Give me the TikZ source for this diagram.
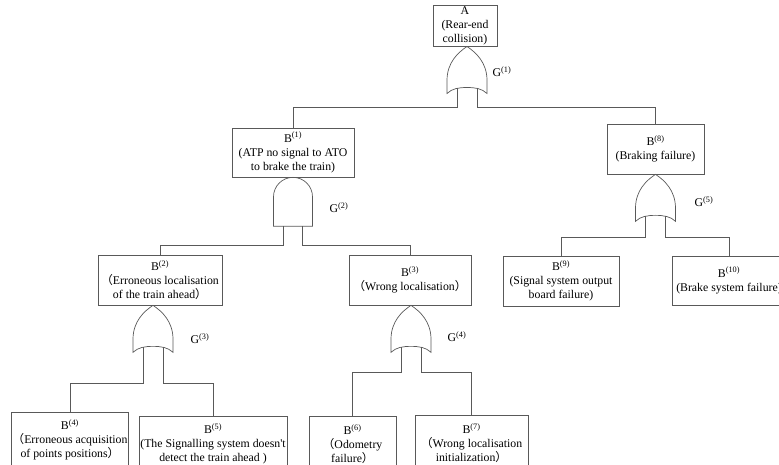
\documentclass[tikz,border=0pt]{standalone}
\usepackage{fontspec}
\setmainfont{Liberation Serif}
\newfontfamily\cjk{Noto Sans CJK SC}
\newcommand{\fwl}{{\cjk （}}
\newcommand{\fwr}{{\cjk ）}}
\tikzset{
  box/.style={draw=black!65, line width=0.7pt, align=center, inner sep=1pt,
    font=\fontsize{11.8}{14}\selectfont},
  gate/.style={draw=black!65, line width=0.7pt},
  wire/.style={draw=black!65, line width=0.7pt},
  glabel/.style={font=\fontsize{11.8}{14}\selectfont},
  orgate/.pic={
    \draw[gate] (0,0) .. controls (-9,6) and (-20,16) .. (-20,34) -- (-20,47)
      .. controls (-15,42) and (-8,41) .. (0,41) .. controls (8,41) and (15,42) .. (20,47)
      -- (20,34) .. controls (20,16) and (9,6) .. (0,0) -- cycle;
    \coordinate (-l) at (-10,41.5);
    \coordinate (-r) at (10,41.5);
  },
  andgate/.pic={
    \draw[gate] (-19.5,49) -- (-19.5,19.5) arc (180:360:19.5) -- (19.5,49) -- cycle;
    \coordinate (-l) at (-9.5,49);
    \coordinate (-r) at (9.5,49);
  }
}
\begin{document}
\begin{tikzpicture}[x=1pt, y=-1pt]
  \useasboundingbox (0,0) rectangle (779,465);
  \clip (0,0) rectangle (779,465);

  % events
  \node[box, minimum width=64pt, minimum height=40pt] (a) at (465,26)
    {A\\(Rear-end\\collision)};
  \node[box, minimum width=122pt, minimum height=49pt] (b1) at (293,152.5)
    {B\textsuperscript{(1)}\\(ATP no signal to ATO\\to brake the train)};
  \node[box, minimum width=97pt, minimum height=50pt] (b8) at (655.5,149)
    {B\textsuperscript{(8)}\\(Braking failure)};
  \node[box, minimum width=124pt, minimum height=50pt] (b2) at (160,280)
    {B\textsuperscript{(2)}\\\fwl Erroneous localisation\\of the train ahead\fwr};
  \node[box, minimum width=122pt, minimum height=50pt] (b3) at (410,280)
    {B\textsuperscript{(3)}\\\fwl Wrong localisation\fwr};
  \node[box, minimum width=116pt, minimum height=50pt] (b9) at (561,281)
    {B\textsuperscript{(9)}\\(Signal system output\\board failure)};
  \node[box, minimum width=114pt, minimum height=49pt] (b10) at (729,280.5)
    {B\textsuperscript{(10)}\\(Brake system failure)};
  \node[box, minimum width=114pt, minimum height=56pt] (b4) at (70,440)
    {B\textsuperscript{(4)}\\\fwl Erroneous acquisition\\of points positions\fwr};
  \node[box, minimum width=148pt, minimum height=56pt] (b5) at (213,444)
    {B\textsuperscript{(5)}\\(The Signalling system doesn\textquotesingle t\\detect the train ahead )};
  \node[box, minimum width=87pt, minimum height=56pt] (b6) at (352.5,444)
    {B\textsuperscript{(6)}\\\fwl Odometry\\failure\fwr};
  \node[box, minimum width=113pt, minimum height=56pt] (b7) at (471.5,443)
    {B\textsuperscript{(7)}\\\fwl Wrong localisation\\initialization\fwr};

  % gates
  \pic (g1) at ([xshift=2pt]a.south) {orgate};
  \pic (g2) at (b1.south) {andgate};
  \pic (g3) at ([xshift=-7pt]b2.south) {orgate};
  \pic (g4) at ([xshift=1pt]b3.south) {orgate};
  \pic (g5) at (b8.south) {orgate};

  \node[glabel] (l1) at (502,72) {G\textsuperscript{(1)}};
  \node[glabel] (l2) at (339,208) {G\textsuperscript{(2)}};
  \node[glabel] (l3) at (200,339) {G\textsuperscript{(3)}};
  \node[glabel] (l4) at (457,337) {G\textsuperscript{(4)}};
  \node[glabel] (l5) at (704,202) {G\textsuperscript{(5)}};

  % wires
  \draw[wire] (g1-l) -- ++(0,19.5) -| (b1.north);
  \draw[wire] (g1-r) -- ++(0,19.5) -| (b8.north);
  \draw[wire] (g2-l) -- ++(0,19) -| (b2.north);
  \draw[wire] (g2-r) -- ++(0,19) -| (b3.north);
  \draw[wire] (g3-l) -- ++(0,36.5) -| (b4.north);
  \draw[wire] (g3-r) -- ++(0,36.5) -| (b5.north);
  \draw[wire] (g4-l) -- ++(0,25.5) -| (b6.north);
  \draw[wire] (g4-r) -- ++(0,25.5) -| (b7.north);
  \draw[wire] (g5-l) -- ++(0,21.5) -| (b9.north);
  \draw[wire] (g5-r) -- ++(0,21.5) -| (b10.north);
\end{tikzpicture}
\end{document}
